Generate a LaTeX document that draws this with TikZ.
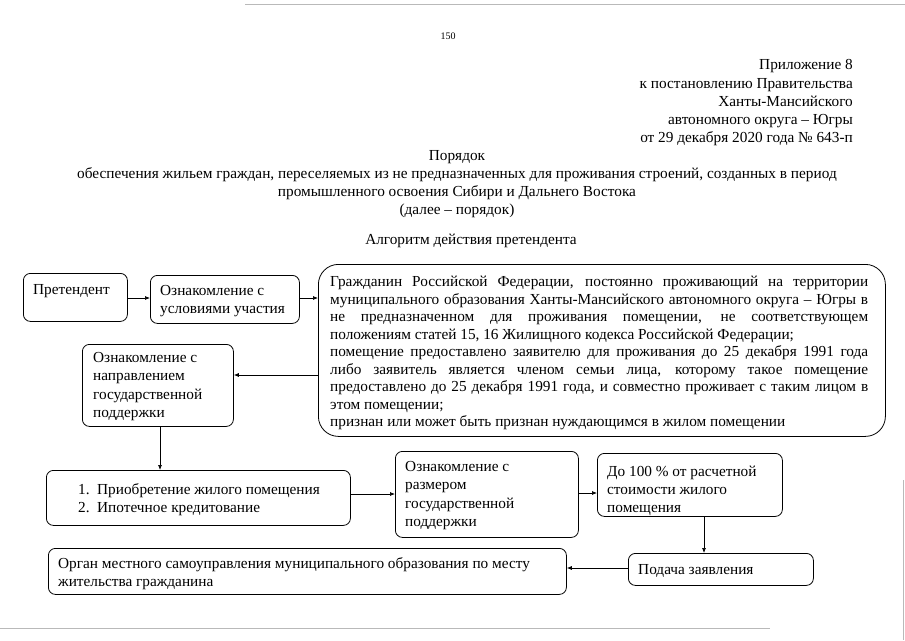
\documentclass[tikz,border=0pt]{standalone}
\usepackage{fontspec}
\setmainfont{Liberation Serif}
\usetikzlibrary{arrows.meta}
\newcommand{\bodyfs}{\fontsize{15.3}{18.1}\selectfont}
\newcommand{\bigfs}{\fontsize{15.3}{17.45}\selectfont}
\newcommand{\headfs}{\fontsize{15.3}{18.2}\selectfont}
\newcommand{\jl}[1]{\makebox[538pt][s]{#1}}
\tikzset{
  box/.style={draw, line width=0.8pt, rounded corners=7pt, inner sep=0pt, anchor=north west},
  bigbox/.style={box, rounded corners=20pt},
  txt/.style={anchor=north west, inner sep=0pt, align=left, font=\bodyfs},
  head/.style={inner sep=0pt, font=\headfs},
  arr/.style={-{Latex[length=5pt,width=4pt]}, line width=0.7pt},
  scan/.style={gray!55, line width=0.6pt},
}
\begin{document}
\begin{tikzpicture}[x=1pt,y=-1pt]
\useasboundingbox (0,0) rectangle (905,640);
% scan edges
\draw[scan] (245,4) -- (905,4);
\draw[scan] (0,628) -- (770,628);
\draw[scan] (903,480) -- (903,640);
% header
\node[inner sep=0pt, font=\fontsize{10}{12}\selectfont] (pg) at (448,36) {150};
\node[head, anchor=north east, align=right] (app) at (853,59.5) {Приложение 8\\к постановлению Правительства\\Ханты-Мансийского\\автономного округа – Югры\\от 29 декабря 2020 года № 643-п};
\node[head, anchor=north, align=center] (title) at (457,150) {Порядок\\обеспечения жильем граждан, переселяемых из не предназначенных для проживания строений, созданных в период\\промышленного освоения Сибири и Дальнего Востока\\(далее – порядок)};
\node[head] (alg) at (471,241) {Алгоритм действия претендента};
% boxes
\node[box, minimum width=104pt, minimum height=48pt] (pret) at (23,273) {};
\node[txt] (prett) at (33,284.5) {Претендент};
\node[box, minimum width=149pt, minimum height=48pt] (usl) at (150,275) {};
\node[txt] (uslt) at (160,285.5) {Ознакомление с\\условиями участия};
\node[bigbox, minimum width=567pt, minimum height=172pt] (big) at (318,264) {};
\node[txt, font=\bigfs] (bigt) at (330,276.3) {%
\jl{Гражданин Российской Федерации, постоянно проживающий на территории}\\
\jl{муниципального образования Ханты-Мансийского автономного округа – Югры в}\\
\jl{не предназначенном для проживания помещении, не соответствующем}\\
положениям статей 15, 16 Жилищного кодекса Российской Федерации;\\
\jl{помещение предоставлено заявителю для проживания до 25 декабря 1991 года}\\
\jl{либо заявитель является членом семьи лица, которому такое помещение}\\
\jl{предоставлено до 25 декабря 1991 года, и совместно проживает с таким лицом в}\\
этом помещении;\\
признан или может быть признан нуждающимся в жилом помещении};
\node[box, minimum width=151pt, minimum height=82pt] (napr) at (82,344) {};
\node[txt] (naprt) at (93,352.5) {Ознакомление с\\направлением\\государственной\\поддержки};
\node[box, minimum width=304pt, minimum height=55pt] (opt) at (46,470) {};
\node[txt] (optt) at (78,483.5) {\makebox[19pt][l]{1.}Приобретение жилого помещения\\\makebox[19pt][l]{2.}Ипотечное кредитование};
\node[box, minimum width=183pt, minimum height=86pt] (razm) at (395,451) {};
\node[txt] (razmt) at (405,461.5) {Ознакомление с\\размером\\государственной\\поддержки};
\node[box, minimum width=185pt, minimum height=63pt] (sto) at (597,453) {};
\node[txt] (stot) at (607,465.5) {До 100 \% от расчетной\\стоимости жилого\\помещения};
\node[box, minimum width=185pt, minimum height=32pt] (pod) at (628,553) {};
\node[txt] (podt) at (638,564.5) {Подача заявления};
\node[box, minimum width=518pt, minimum height=46pt] (org) at (48,548) {};
\node[txt] (orgt) at (58,557.5) {Орган местного самоуправления муниципального образования по месту\\жительства гражданина};
% connectors
\draw[arr] (pret.east |- 0,298) -- (usl.west |- 0,298);
\draw[arr] (usl.east |- 0,298) -- (big.west |- 0,298);
\draw[arr] (big.west |- 0,375) -- (napr.east |- 0,375);
\draw[arr] (napr.south -| 160,0) -- (opt.north -| 160,0);
\draw[arr] (opt.east |- 0,494) -- (razm.west |- 0,494);
\draw[arr] (razm.east |- 0,493) -- (sto.west |- 0,493);
\draw[arr] (sto.south -| 704,0) -- (pod.north -| 704,0);
\draw[arr] (pod.west |- 0,568) -- (org.east |- 0,568);
\end{tikzpicture}
\end{document}
